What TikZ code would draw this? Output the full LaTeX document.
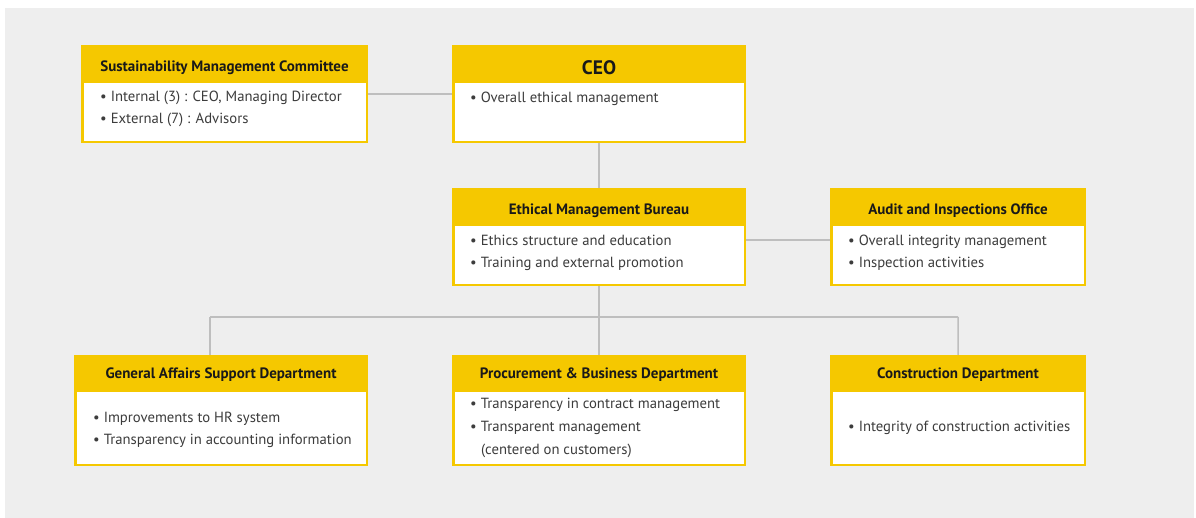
\documentclass[tikz,border=0pt]{standalone}
\usepackage{fontspec}
\setmainfont{PT Sans}
\usetikzlibrary{positioning}
\definecolor{orgyellow}{HTML}{F5C800}
\definecolor{orgbg}{HTML}{EEEEEE}
\definecolor{orgline}{HTML}{BEBEBE}
\definecolor{orgtext}{HTML}{3C3C3C}
\tikzset{
  unit/.style={fill=orgyellow, inner sep=0pt, anchor=north west},
  body/.style={fill=white, inner sep=0pt, anchor=south},
  headtext/.style={anchor=base, inner sep=0pt, font=\fontsize{15}{17}\selectfont\bfseries, text=black!90},
  item/.style={anchor=base west, inner sep=0pt, font=\fontsize{14.7}{17}\selectfont, text=orgtext},
  link/.style={draw=orgline, line width=1.5pt}
}

\begin{document}
\begin{tikzpicture}[x=1pt,y=-1pt]
  \useasboundingbox (0,0) rectangle (1196,518);
  \fill[orgbg] (5,8) rectangle (1194,518);

  % top row
  \node[unit, minimum width=287pt, minimum height=98pt] (smc) at (81,45) {};
  \node[body, minimum width=282pt, minimum height=58pt] at ([yshift=2.5pt]smc.south) {};
  \node[headtext] at (224.5,72) {Sustainability Management Committee};
  \node[item] at (100,102) {• Internal (3) : CEO, Managing Director};
  \node[item] at (100,124) {• External (7) : Advisors};

  \node[unit, minimum width=294pt, minimum height=98pt] (ceo) at (452,45) {};
  \node[body, minimum width=289pt, minimum height=58pt] at ([yshift=2.5pt]ceo.south) {};
  \node[headtext, font=\fontsize{19.5}{22}\selectfont\bfseries] at (599,75) {CEO};
  \node[item] at (470,103) {• Overall ethical management};

  % middle row
  \node[unit, minimum width=294pt, minimum height=98pt] (emb) at (452,188) {};
  \node[body, minimum width=289pt, minimum height=58pt] at ([yshift=2.5pt]emb.south) {};
  \node[headtext] at (599,215) {Ethical Management Bureau};
  \node[item] at (470,246) {• Ethics structure and education};
  \node[item] at (470,268) {• Training and external promotion};

  \node[unit, minimum width=256pt, minimum height=98pt] (aio) at (830,188) {};
  \node[body, minimum width=251pt, minimum height=58pt] at ([yshift=2.5pt]aio.south) {};
  \node[headtext] at (958,215) {Audit and Inspections Office};
  \node[item] at (848,246) {• Overall integrity management};
  \node[item] at (848,268) {• Inspection activities};

  % bottom row
  \node[unit, minimum width=294pt, minimum height=111pt] (gas) at (74,355) {};
  \node[body, minimum width=289pt, minimum height=72pt] at ([yshift=2.5pt]gas.south) {};
  \node[headtext] at (221,378) {General Affairs Support Department};
  \node[item] at (93,422) {• Improvements to HR system};
  \node[item] at (93,444) {• Transparency in accounting information};

  \node[unit, minimum width=294pt, minimum height=111pt] (pbd) at (452,355) {};
  \node[body, minimum width=289pt, minimum height=72pt] at ([yshift=2.5pt]pbd.south) {};
  \node[headtext] at (599,378) {Procurement \& Business Department};
  \node[item] at (470,408) {• Transparency in contract management};
  \node[item] at (470,431) {• Transparent management};
  \node[item] at (481,454) {(centered on customers)};

  \node[unit, minimum width=256pt, minimum height=111pt] (cd) at (830,355) {};
  \node[body, minimum width=251pt, minimum height=72pt] at ([yshift=2.5pt]cd.south) {};
  \node[headtext] at (958,378) {Construction Department};
  \node[item] at (848,431) {• Integrity of construction activities};

  % connectors
  \coordinate (busl) at (210,317);
  \coordinate (busr) at (958,317);
  \draw[link] (smc.east) -- (ceo.west);
  \draw[link] (ceo.south) -- (emb.north);
  \draw[link] ([yshift=-3pt]emb.east) -- ([yshift=-3pt]aio.west);
  \draw[link] (emb.south) -- (pbd.north);
  \draw[link] (busl) -- (busr);
  \draw[link] (busl) -- (busl |- gas.north);
  \draw[link] (busr) -- (cd.north);
\end{tikzpicture}
\end{document}
